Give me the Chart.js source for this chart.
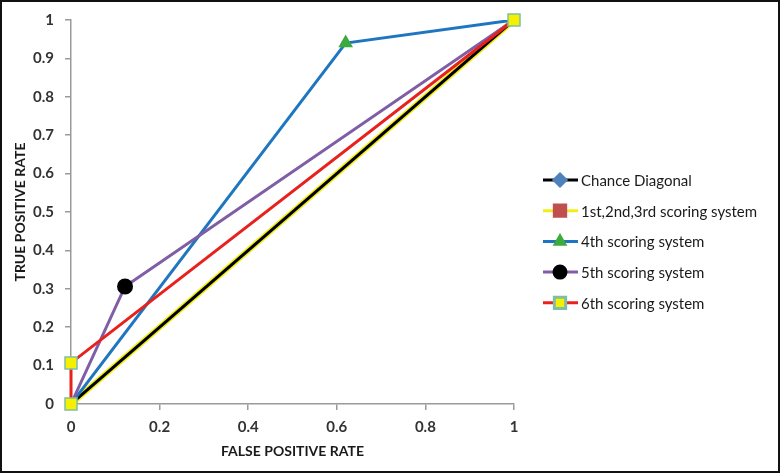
<!DOCTYPE html>
<html>
<head>
<meta charset="utf-8">
<script src="https://cdn.jsdelivr.net/npm/chart.js@4.4.1/dist/chart.umd.min.js"></script>
<style>
  html, body { margin: 0; padding: 0; background: #fff; }
  #wrap { width: 780px; height: 473px; position: relative; }
</style>
</head>
<body>
<div id="wrap"><canvas id="roc" width="780" height="473"></canvas></div>
<script>
// ROC curves
const seriesNames = ['Chance Diagonal', '1st,2nd,3rd scoring system', '4th scoring system', '5th scoring system', '6th scoring system'];
const chanceFpr = [0, 1];
const chanceTpr = [0, 1];
const firstFpr = [0, 1];
const firstTpr = [0, 1];
const fourthFpr = [0, 0.62, 1];
const fourthTpr = [0, 0.94, 1];
const fifthFpr = [0, 0.122, 1];
const fifthTpr = [0, 0.306, 1];
const sixthFpr = [0, 0, 1];
const sixthTpr = [0, 0.107, 1];
const xTicks = [0, 0.2, 0.4, 0.6, 0.8, 1];
const yTicks = [0, 0.1, 0.2, 0.3, 0.4, 0.5, 0.6, 0.7, 0.8, 0.9, 1];

const pts = (xs, ys) => xs.map((x, i) => ({ x: x, y: ys[i] }));

const tickFont = { family: 'Lato', size: 15, weight: 'bold' };

// legend drawn by hand: line with the marker on it, like the spreadsheet legend
const lineLegend = {
    id: 'lineLegend',
    afterDraw(chart) {
        const ctx = chart.ctx;
        ctx.save();
        chart.data.datasets.forEach((ds, i) => {
            const y = 180 + i * 30.7;
            ctx.strokeStyle = ds.borderColor;
            ctx.lineWidth = 3;
            ctx.beginPath();
            ctx.moveTo(543, y);
            ctx.lineTo(578, y);
            ctx.stroke();
            ctx.fillStyle = ds.pointBackgroundColor;
            ctx.strokeStyle = ds.pointBorderColor;
            Chart.helpers.drawPoint(ctx, {
                pointStyle: ds.pointStyle,
                radius: ds.legendRadius,
                rotation: 0,
                borderWidth: 1.2
            }, 560, y);
            ctx.fillStyle = '#1a1a1a';
            ctx.font = '15px Lato';
            ctx.textBaseline = 'middle';
            ctx.fillText(ds.label, 581, y + 1);
        });
        // outer frame
        ctx.strokeStyle = '#111';
        ctx.lineWidth = 2;
        ctx.strokeRect(1, 1, chart.width - 2, chart.height - 2);
        ctx.restore();
    }
};

new Chart(document.getElementById('roc'), {
    type: 'scatter',
    data: {
        datasets: [
            {
                label: seriesNames[0],
                data: pts(chanceFpr, chanceTpr),
                showLine: true,
                borderColor: '#000000',
                borderWidth: 3,
                pointStyle: 'rectRot',
                pointRadius: 0,
                legendRadius: 6,
                pointBackgroundColor: '#4f81bd',
                pointBorderColor: '#4f81bd',
                order: 4
            },
            {
                label: seriesNames[1],
                data: pts(firstFpr, firstTpr),
                showLine: true,
                borderColor: '#f2ee1a',
                borderWidth: 6,
                pointStyle: 'rect',
                pointRadius: 0,
                legendRadius: 8,
                pointBackgroundColor: '#c0504d',
                pointBorderColor: '#c0504d',
                order: 5
            },
            {
                label: seriesNames[2],
                data: pts(fourthFpr, fourthTpr),
                showLine: true,
                borderColor: '#1f76c0',
                borderWidth: 3,
                pointStyle: 'triangle',
                pointRadius: [0, 5.5, 0],
                legendRadius: 5.5,
                pointBackgroundColor: '#3daa3d',
                pointBorderColor: '#3daa3d',
                order: 3
            },
            {
                label: seriesNames[3],
                data: pts(fifthFpr, fifthTpr),
                showLine: true,
                borderColor: '#7f5ea6',
                borderWidth: 3,
                pointStyle: 'circle',
                pointRadius: [0, 6.5, 0],
                legendRadius: 6,
                pointBackgroundColor: '#000000',
                pointBorderColor: '#000000',
                order: 2
            },
            {
                label: seriesNames[4],
                data: pts(sixthFpr, sixthTpr),
                showLine: true,
                borderColor: '#e8211c',
                borderWidth: 3,
                pointStyle: 'rect',
                pointRadius: 8.5,
                legendRadius: 8,
                pointBackgroundColor: '#f5f000',
                pointBorderColor: '#7fbfa5',
                pointBorderWidth: 1.5,
                clip: false,
                order: 1
            }
        ]
    },
    options: {
        responsive: false,
        animation: false,
        layout: { padding: { left: 0, top: 19, right: 266, bottom: 0 } },
        plugins: {
            legend: { display: false },
            tooltip: { enabled: false }
        },
        scales: {
            x: {
                type: 'linear',
                min: 0,
                max: 1,
                afterBuildTicks: (axis) => { axis.ticks = xTicks.map(v => ({ value: v })); },
                afterFit: (axis) => { axis.height = 69; },
                grid: { drawOnChartArea: false, drawTicks: true, tickLength: 6, color: '#9a9a9a', lineWidth: 1.5 },
                border: { color: '#9a9a9a', width: 1.5 },
                ticks: { color: '#333', font: tickFont, padding: 8, maxRotation: 0, callback: v => String(v) },
                title: {
                    display: true,
                    text: 'FALSE POSITIVE RATE',
                    color: '#1a1a1a',
                    font: { family: 'Lato', size: 14, weight: 'bold' },
                    padding: { top: 2, bottom: 13 }
                }
            },
            y: {
                type: 'linear',
                min: 0,
                max: 1,
                afterBuildTicks: (axis) => { axis.ticks = yTicks.map(v => ({ value: v })); },
                afterFit: (axis) => { axis.width = 71; },
                grid: { drawOnChartArea: false, drawTicks: true, tickLength: 6, color: '#9a9a9a', lineWidth: 1.5 },
                border: { color: '#9a9a9a', width: 1.5 },
                ticks: { color: '#333', font: tickFont, padding: 11, callback: v => String(v) },
                title: {
                    display: true,
                    text: 'TRUE POSITIVE RATE',
                    color: '#1a1a1a',
                    font: { family: 'Lato', size: 14, weight: 'bold' },
                    padding: { top: 12, bottom: 0 }
                }
            }
        }
    },
    plugins: [lineLegend]
});
</script>
</body>
</html>
